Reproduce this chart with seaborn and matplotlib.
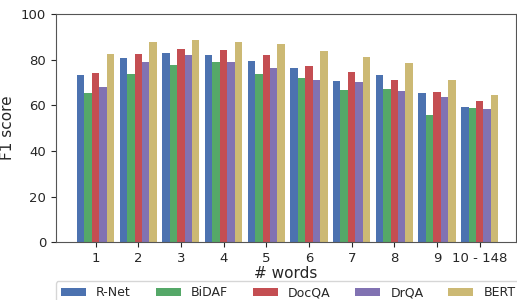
import pandas as pd
import seaborn as sns
import matplotlib.pyplot as plt

groups = ["1", "2", "3", "4", "5", "6", "7", "8", "9", "10 - 148"]
rnet = [73.4, 80.6, 83.0, 82.2, 79.3, 76.4, 70.5, 73.4, 65.2, 59.4]
bidaf = [65.2, 73.7, 77.7, 78.9, 73.9, 71.8, 66.8, 67.1, 55.6, 59.0]
docqa = [74.2, 82.7, 84.6, 84.3, 82.2, 77.1, 74.8, 70.9, 65.8, 61.7]
drqa = [68.1, 78.9, 82.2, 78.9, 76.3, 71.0, 70.3, 66.1, 63.8, 58.5]
bert = [82.7, 87.6, 88.8, 87.9, 86.8, 84.0, 81.4, 78.6, 71.2, 64.6]
models = ["R-Net", "BiDAF", "DocQA", "DrQA", "BERT"]

df = pd.DataFrame({"words": groups, "R-Net": rnet, "BiDAF": bidaf,
                   "DocQA": docqa, "DrQA": drqa, "BERT": bert})
df = df.melt(id_vars="words", var_name="model", value_name="f1")

sns.set_style("ticks")
colors = ["#4C72B0", "#55A868", "#C44E52", "#8172B2", "#CCB974"]

fig, ax = plt.subplots(figsize=(5.17, 3.0), dpi=100)
sns.barplot(data=df, x="words", y="f1", hue="model", hue_order=models,
            palette=colors, width=0.87, saturation=1, linewidth=0,
            ax=ax, legend=True)
ax.set_ylim(0, 100)
ax.set_xlim(-0.93, 9.85)
ax.set_xlabel("# words", fontsize=11, labelpad=1)
ax.set_ylabel("F1 score", fontsize=11, labelpad=4)
ax.tick_params(labelsize=9.5)
for s in ax.spines.values():
    s.set_color("#555555")

handles, labels = ax.get_legend_handles_labels()
ax.get_legend().remove()
fig.legend(handles, labels, loc="upper left", ncol=5, fontsize=9,
           bbox_to_anchor=(0.108, 0.062), handlelength=2.0, columnspacing=2.0,
           frameon=True, borderaxespad=0)

plt.subplots_adjust(left=0.108, right=0.998, top=0.953, bottom=0.193)
plt.savefig("out.png")
